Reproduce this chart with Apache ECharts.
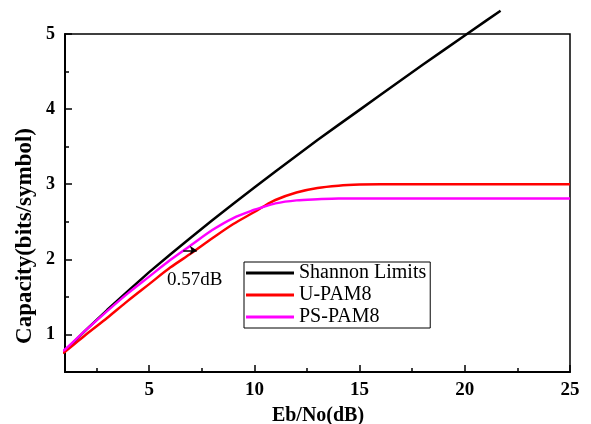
<!DOCTYPE html>
<html>
<head>
<meta charset="utf-8">
<script src="https://cdn.jsdelivr.net/npm/echarts@6/dist/echarts.min.js"></script>
<style>
html,body{margin:0;padding:0;background:#fff;}
#chart{width:591px;height:424px;}
</style>
</head>
<body>
<div id="chart"></div>
<script>
// ---- data ----
var shannonX = [0.8, 1, 2, 3, 4, 5, 6, 7, 8, 9, 10, 11, 12, 13, 14, 15, 16, 17, 18, 19, 20, 21, 21.7];
var shannonY = [0.74, 0.785, 1.06, 1.325, 1.58, 1.83, 2.065, 2.295, 2.52, 2.74, 2.955, 3.17, 3.38, 3.59, 3.79, 3.99, 4.19, 4.39, 4.59, 4.785, 4.98, 5.175, 5.31];

var upamX = [0.8, 1, 2, 3, 4, 5, 6, 7, 8, 9, 10, 10.35, 11, 12, 13, 14, 15, 16, 18, 20, 22, 25];
var upamY = [0.75, 0.77, 1.0, 1.22, 1.45, 1.67, 1.89, 2.08, 2.28, 2.47, 2.63, 2.69, 2.79, 2.89, 2.95, 2.98, 2.995, 3.0, 3.0, 3.0, 3.0, 3.0];

var pspamX = [0.8, 1, 2, 3, 4, 5, 6, 7, 8, 9, 10, 10.35, 11, 12, 13, 14, 16, 18, 20, 22, 25];
var pspamY = [0.77, 0.80, 1.06, 1.31, 1.55, 1.77, 1.99, 2.19, 2.39, 2.55, 2.66, 2.69, 2.745, 2.785, 2.80, 2.81, 2.81, 2.81, 2.81, 2.81, 2.81];

var seriesNames = ['Shannon Limits', 'U-PAM8', 'PS-PAM8'];
var xMajorTicks = [5, 10, 15, 20, 25];
var xMinorTicks = [2.5, 7.5, 12.5, 17.5, 22.5];
var yMajorTicks = [1, 2, 3, 4, 5];
var yMinorTicks = [1.5, 2.5, 3.5, 4.5];
var gapArrow = [[6.62, 2.12], [7.26, 2.12]];
var gapLabel = '0.57dB';
var xTitle = 'Eb/No(dB)';
var yTitle = 'Capacity(bits/symbol)';

function pairs(xs, ys) {
  var out = [];
  for (var i = 0; i < xs.length; i++) out.push([xs[i], ys[i]]);
  return out;
}

var serif = '"Liberation Serif", "Times New Roman", serif';
var chart = echarts.init(document.getElementById('chart'), null, {renderer: 'canvas'});

var baseX = {
  type: 'value', min: 1, max: 25, gridIndex: 0, position: 'bottom',
  splitLine: {show: false}
};
var baseY = {
  type: 'value', min: 0.5, max: 5, gridIndex: 0, position: 'left',
  splitLine: {show: false}
};

var option = {
  backgroundColor: '#fff',
  animation: false,
  grid: {left: 65, right: 21, top: 34, bottom: 52, show: true, borderColor: '#000', borderWidth: 1.5, backgroundColor: 'transparent'},
  xAxis: [
    Object.assign({}, baseX, {
      axisLine: {show: true, onZero: false, lineStyle: {color: '#000', width: 2}},
      axisTick: {show: true, inside: true, length: 7, customValues: xMajorTicks, lineStyle: {color: '#000', width: 1.5}},
      axisLabel: {show: true, customValues: xMajorTicks, margin: 9, color: '#000', fontFamily: serif, fontWeight: 'bold', fontSize: 19}
    }),
    Object.assign({}, baseX, {
      axisLine: {show: false, onZero: false},
      axisTick: {show: true, inside: true, length: 4, customValues: xMinorTicks, lineStyle: {color: '#000', width: 1.5}},
      axisLabel: {show: false}
    })
  ],
  yAxis: [
    Object.assign({}, baseY, {
      axisLine: {show: true, onZero: false, lineStyle: {color: '#000', width: 2}},
      axisTick: {show: true, inside: true, length: 7, customValues: yMajorTicks, lineStyle: {color: '#000', width: 1.5}},
      axisLabel: {show: true, customValues: yMajorTicks, margin: 10, color: '#000', fontFamily: serif, fontWeight: 'bold', fontSize: 18}
    }),
    Object.assign({}, baseY, {
      axisLine: {show: false, onZero: false},
      axisTick: {show: true, inside: true, length: 4, customValues: yMinorTicks, lineStyle: {color: '#000', width: 1.5}},
      axisLabel: {show: false}
    })
  ],
  legend: {
    data: seriesNames,
    orient: 'vertical',
    left: 244, top: 262,
    borderColor: '#000', borderWidth: 1,
    padding: [1, 4, 1, 2],
    itemGap: 2,
    itemWidth: 48, itemHeight: 3,
    icon: 'rect',
    textStyle: {color: '#000', fontFamily: serif, fontSize: 20, lineHeight: 20, padding: [0, 0, 0, 0]}
  },
  graphic: [
    {type: 'text', x: 318, y: 416, style: {text: xTitle, font: 'bold 20px ' + serif, fill: '#000', textAlign: 'center', textVerticalAlign: 'middle'}},
    {type: 'text', x: 25, y: 236, rotation: Math.PI / 2, style: {text: yTitle, font: 'bold 23px ' + serif, fill: '#000', textAlign: 'center', textVerticalAlign: 'middle'}},
    {type: 'text', x: 167, y: 280, style: {text: gapLabel, font: '19px ' + serif, fill: '#000', textAlign: 'left', textVerticalAlign: 'middle'}}
  ],
  series: [
    {
      name: seriesNames[0], type: 'line', xAxisIndex: 0, yAxisIndex: 0,
      data: pairs(shannonX, shannonY), smooth: false, symbol: 'none', clip: false,
      lineStyle: {color: '#000000', width: 2.5}, itemStyle: {color: '#000000'}
    },
    {
      name: seriesNames[1], type: 'line', xAxisIndex: 0, yAxisIndex: 0,
      data: pairs(upamX, upamY), smooth: 0.3, symbol: 'none', clip: false,
      lineStyle: {color: '#ff0000', width: 2.5}, itemStyle: {color: '#ff0000'}
    },
    {
      name: seriesNames[2], type: 'line', xAxisIndex: 0, yAxisIndex: 0,
      data: pairs(pspamX, pspamY), smooth: 0.3, symbol: 'none', clip: false,
      lineStyle: {color: '#ff00ff', width: 2.5}, itemStyle: {color: '#ff00ff'},
      markLine: {
        silent: true, animation: false,
        symbol: ['none', 'arrow'], symbolSize: 7,
        label: {show: false},
        lineStyle: {color: '#000', width: 1.5, type: 'solid'},
        data: [[{coord: gapArrow[0]}, {coord: gapArrow[1]}]]
      }
    }
  ]
};
chart.setOption(option);
</script>
</body>
</html>
